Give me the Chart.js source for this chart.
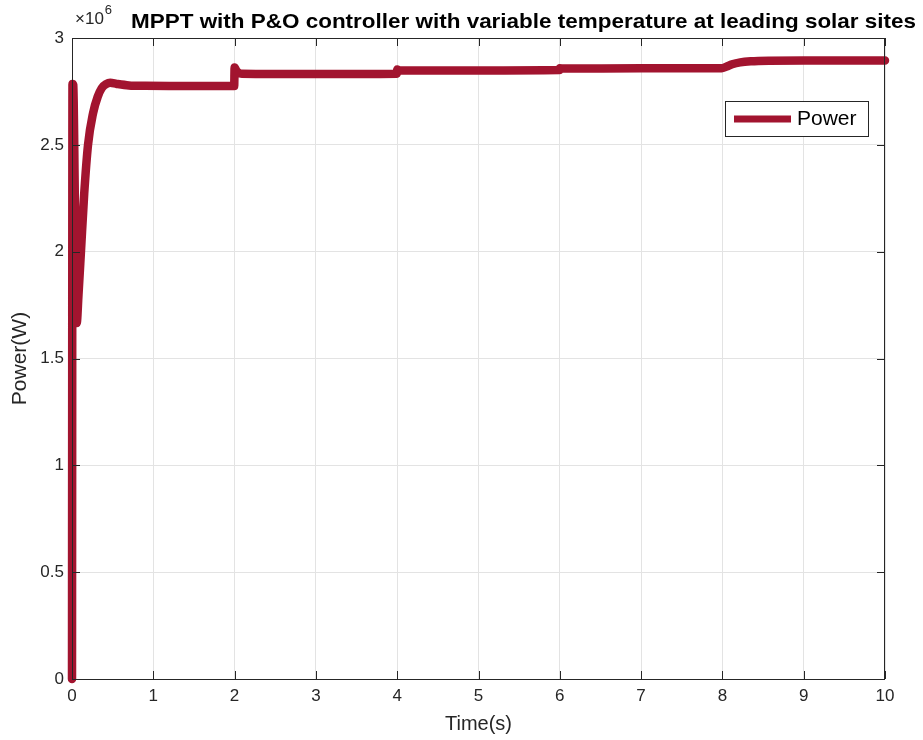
<!DOCTYPE html>
<html>
<head>
<meta charset="utf-8">
<script src="https://cdn.jsdelivr.net/npm/chart.js@4.4.1/dist/chart.umd.min.js"></script>
<style>
  html, body { margin:0; padding:0; background:#fff; }
  #wrap { width:923px; height:740px; }
</style>
</head>
<body>
<div id="wrap"><canvas id="c" width="923" height="740"></canvas></div>
<script>
// ---------- Data ----------
const titleText = 'MPPT with P&O controller with variable temperature at leading solar sites';
const xLabel = 'Time(s)';
const yLabel = 'Power(W)';
const seriesLabel = 'Power';

// time (s)
const timeS = [0, 0.006, 0.016, 0.035, 0.058, 0.08, 0.11, 0.15, 0.197, 0.26, 0.316, 0.365, 0.42, 0.47, 0.55, 0.7, 0.9, 1.2, 1.5, 1.995,
  2.0, 2.02, 2.05, 2.09, 2.5, 3.0, 3.5, 3.995, 4.0, 4.03, 5.0, 5.995, 6.0, 6.03, 7.0, 7.99, 8.05, 8.12, 8.22, 8.35, 8.58, 9.0, 10.0];
// power (W)
const powerW = [0, 2.785e6, 2.78e6, 2.25e6, 1.666e6, 1.8e6, 2.0e6, 2.27e6, 2.5e6, 2.65e6, 2.725e6, 2.765e6, 2.784e6, 2.79e6, 2.785e6, 2.778e6, 2.776e6, 2.775e6, 2.775e6, 2.775e6,
  2.862e6, 2.848e6, 2.837e6, 2.833e6, 2.832e6, 2.832e6, 2.832e6, 2.833e6, 2.852e6, 2.848e6, 2.848e6, 2.85e6, 2.859e6, 2.857e6, 2.858e6, 2.858e6, 2.866e6, 2.877e6, 2.886e6, 2.891e6, 2.894e6, 2.895e6, 2.895e6];

const xTicks = [0, 1, 2, 3, 4, 5, 6, 7, 8, 9, 10];
const yTicks = [0, 0.5e6, 1e6, 1.5e6, 2e6, 2.5e6, 3e6];

const lineColor = '#A2142F';
const axisColor = '#262626';
const gridColor = '#e3e3e3';
const FONT = '"Liberation Sans", Arial, Helvetica, sans-serif';

// ---------- Plugin: box, inner ticks, title, exponent, legend ----------
const matlabLook = {
  id: 'matlabLook',
  afterDraw(chart){
    const ctx = chart.ctx;
    const a = chart.chartArea;
    const xs = chart.scales.x, ys = chart.scales.y;
    ctx.save();
    // box
    ctx.strokeStyle = axisColor;
    ctx.lineWidth = 1;
    ctx.strokeRect(a.left + 0.5, a.top + 0.5, a.right - a.left - 1, a.bottom - a.top);
    // inner ticks
    const tl = 8;
    ctx.beginPath();
    xTicks.forEach(v => {
      const px = Math.round(xs.getPixelForValue(v)) + 0.5;
      ctx.moveTo(px, a.bottom); ctx.lineTo(px, a.bottom - tl);
      ctx.moveTo(px, a.top); ctx.lineTo(px, a.top + tl);
    });
    yTicks.forEach(v => {
      const py = Math.round(ys.getPixelForValue(v)) + 0.5;
      ctx.moveTo(a.left, py); ctx.lineTo(a.left + tl, py);
      ctx.moveTo(a.right, py); ctx.lineTo(a.right - tl, py);
    });
    ctx.stroke();

    // exponent label
    ctx.fillStyle = axisColor;
    ctx.textBaseline = 'alphabetic';
    ctx.textAlign = 'left';
    ctx.font = '17px ' + FONT;
    ctx.fillText('\u00d710', 75, 24);
    const w = ctx.measureText('\u00d710').width;
    ctx.font = '13px ' + FONT;
    ctx.fillText('6', 75 + w + 1, 14);

    // title (stretched a little to the reference width)
    ctx.fillStyle = '#000';
    ctx.font = 'bold 21px ' + FONT;
    const tw = ctx.measureText(titleText).width;
    ctx.save();
    ctx.translate(131, 28);
    ctx.scale(785 / tw, 1);
    ctx.fillText(titleText, 0, 0);
    ctx.restore();

    // legend
    const ds = chart.data.datasets[0];
    const lx = 725, ly = 101, lw = 143, lh = 35;
    ctx.fillStyle = '#fff';
    ctx.fillRect(lx, ly, lw, lh);
    ctx.strokeStyle = axisColor;
    ctx.lineWidth = 1;
    ctx.strokeRect(lx + 0.5, ly + 0.5, lw, lh);
    ctx.strokeStyle = ds.borderColor;
    ctx.lineWidth = 7;
    ctx.beginPath();
    ctx.moveTo(lx + 9, ly + 18); ctx.lineTo(lx + 66, ly + 18);
    ctx.stroke();
    ctx.fillStyle = '#000';
    ctx.font = '21px ' + FONT;
    ctx.textBaseline = 'middle';
    ctx.fillText(ds.label, lx + 72, ly + 18);
    ctx.restore();
  }
};

new Chart(document.getElementById('c'), {
  type: 'scatter',
  data: {
    datasets: [{
      label: seriesLabel,
      data: timeS.map((t, i) => ({ x: t, y: powerW[i] })),
      showLine: true,
      borderColor: lineColor,
      backgroundColor: lineColor,
      borderWidth: 8.5,
      pointRadius: 0,
      cubicInterpolationMode: 'monotone',
      borderCapStyle: 'round',
      borderJoinStyle: 'round',
      clip: false
    }]
  },
  options: {
    responsive: false,
    animation: false,
    layout: { padding: { top: 38, right: 38, left: 0, bottom: 0 } },
    plugins: { legend: { display: false }, tooltip: { enabled: false } },
    scales: {
      x: {
        type: 'linear', min: 0, max: 10,
        afterBuildTicks: s => { s.ticks = xTicks.map(v => ({ value: v })); },
        afterFit: s => { s.height = 61; },
        grid: { color: gridColor, drawTicks: false },
        border: { display: false },
        ticks: { color: axisColor, font: { size: 17, family: FONT }, padding: 7, maxRotation: 0 },
        title: { display: true, text: xLabel, color: axisColor, font: { size: 20, family: FONT }, padding: { top: 0 } }
      },
      y: {
        type: 'linear', min: 0, max: 3e6,
        afterBuildTicks: s => { s.ticks = yTicks.map(v => ({ value: v })); },
        afterFit: s => { s.width = 72; },
        grid: { color: gridColor, drawTicks: false },
        border: { display: false },
        ticks: { color: axisColor, font: { size: 17, family: FONT }, padding: 8, callback: v => String(v / 1e6) },
        title: { display: true, text: yLabel, color: axisColor, font: { size: 21, family: FONT }, padding: { top: 8, bottom: 0 } }
      }
    }
  },
  plugins: [matlabLook]
});
</script>
</body>
</html>
